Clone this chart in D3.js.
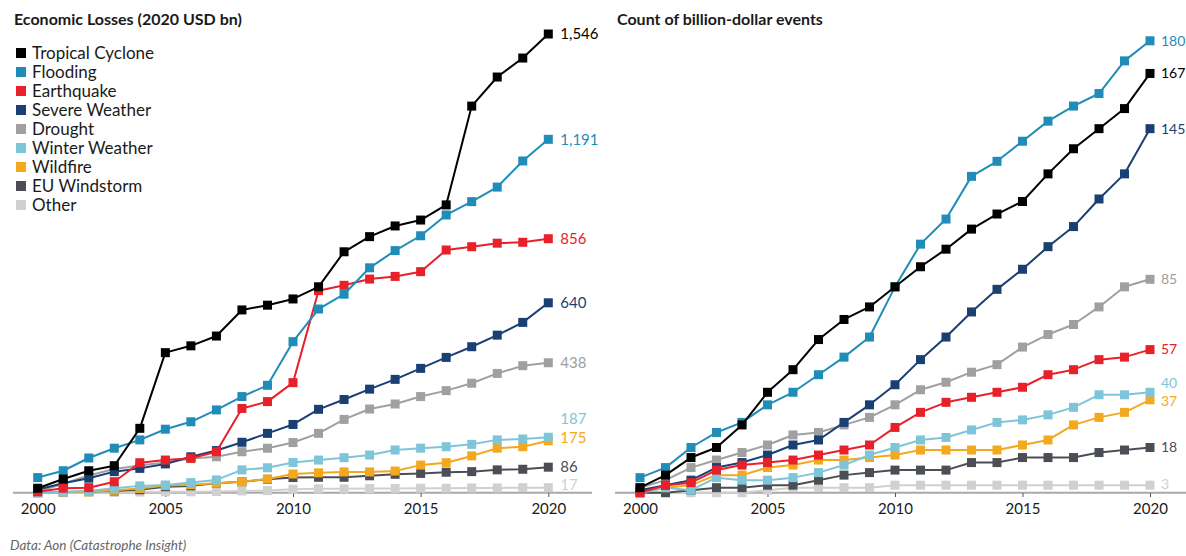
<!DOCTYPE html>
<html>
<head>
<meta charset="utf-8">
<script src="https://cdn.jsdelivr.net/npm/d3@7"></script>
<style>
  html, body { margin: 0; padding: 0; background: #fff; }
  svg { display: block; font-family: Lato, "Open Sans", sans-serif; }
</style>
</head>
<body>
<svg id="chart" width="1186" height="556"></svg>
<script>
const years = d3.range(2000, 2021);
const seriesNames = ["Tropical Cyclone","Flooding","Earthquake","Severe Weather","Drought","Winter Weather","Wildfire","EU Windstorm","Other"];
const seriesColors = ["#000000","#1f8db8","#e8202a","#1a3f73","#a0a0a0","#7fc5d9","#f4a81d","#4b4f55","#d0d0d0"];

// Economic losses, cumulative (2020 USD bn)
const lossTropicalCyclone = [15,46,74,91,217,472,495,528,616,632,653,694,812,863,899,919,970,1303,1401,1465,1546];
const lossFlooding        = [51,74,117,150,178,214,239,279,324,362,509,619,669,758,816,866,936,981,1030,1118,1191];
const lossEarthquake      = [3,15,17,37,101,110,116,138,284,307,371,681,699,720,729,745,818,829,841,844,856];
const lossSevereWeather   = [11,32,49,71,82,97,121,142,170,200,230,281,314,349,382,419,456,492,531,574,640];
const lossDrought         = [4,30,58,80,92,102,115,121,138,150,169,200,247,282,299,324,344,369,402,428,438];
const lossWinterWeather   = [0,2,6,15,23,26,34,43,77,84,102,110,118,127,144,150,155,163,178,181,187];
const lossWildfire        = [0,1,3,8,14,24,27,32,37,46,63,67,70,70,73,93,101,124,150,155,175];
const lossEUWindstorm     = [0,2,4,6,10,20,23,32,37,45,51,52,52,57,62,65,69,71,77,79,86];
const lossOther           = [0,0,1,1,2,3,3,4,6,7,12,13,13,14,14,15,15,16,16,17,17];

// Count of billion-dollar events, cumulative
const cntTropicalCyclone = [2,7,14,18,27,40,49,61,69,74,82,90,97,105,111,116,127,137,145,153,167];
const cntFlooding        = [6,10,18,24,28,35,40,47,54,62,82,99,109,126,132,140,148,154,159,172,180];
const cntEarthquake      = [0,3,4,9,11,12,13,15,17,19,26,32,36,38,40,42,47,49,53,54,57];
const cntSevereWeather   = [1,3,5,10,12,15,19,21,28,35,43,53,62,72,81,89,98,106,117,127,145];
const cntDrought         = [2,5,10,13,16,19,23,24,27,30,35,41,44,48,51,58,63,67,74,82,85];
const cntWinterWeather   = [0,2,1,6,5,5,6,8,11,15,18,21,22,25,28,29,31,34,39,39,40];
const cntWildfire        = [0,2,3,7,7,10,11,13,13,14,15,17,17,17,17,19,21,27,30,32,37];
const cntEUWindstorm     = [0,0,1,2,2,3,3,5,7,8,9,9,9,12,12,14,14,14,16,17,18];
const cntOther           = [0,0,0,0,0,1,2,2,2,2,3,3,3,3,3,3,3,3,3,3,3];

const tickYears = [2000, 2005, 2010, 2015, 2020];
const lossLabels = ["1,546","1,191","856","640","438","187","175","86","17"];
const cntLabels  = ["180","167","145","85","57","40","37","18","3"];
const cntLabelOrder = [1,0,3,4,2,5,6,7,8]; // series index for each count label

const lossData = [lossTropicalCyclone,lossFlooding,lossEarthquake,lossSevereWeather,lossDrought,lossWinterWeather,lossWildfire,lossEUWindstorm,lossOther];
const cntData  = [cntTropicalCyclone,cntFlooding,cntEarthquake,cntSevereWeather,cntDrought,cntWinterWeather,cntWildfire,cntEUWindstorm,cntOther];

const svg = d3.select("#chart");

function panel(opts) {
  const g = svg.append("g");
  const x = d3.scaleLinear().domain([2000, 2020]).range(opts.xRange);
  const y = d3.scaleLinear().domain([0, opts.yMax]).range([492.7, opts.yTop]);

  g.append("line")
    .attr("x1", opts.axisX[0]).attr("x2", opts.axisX[1])
    .attr("y1", 492.7).attr("y2", 492.7)
    .attr("stroke", "#a8a8a8").attr("stroke-width", 2);

  const ax = d3.axisBottom(x).tickValues(tickYears).tickFormat(d3.format("d")).tickSize(4).tickPadding(6);
  const axg = g.append("g").attr("transform", "translate(0,493)").call(ax);
  axg.select(".domain").remove();
  axg.selectAll(".tick line").attr("stroke", "#555");
  axg.selectAll(".tick text").attr("font-size", 15).attr("fill", "#1a1a1a").attr("font-family", "Lato, sans-serif");

  const line = d3.line().x((d, i) => x(years[i])).y(d => y(d));

  for (let s = opts.data.length - 1; s >= 0; s--) {
    const vals = opts.data[s];
    g.append("path").datum(vals)
      .attr("d", line).attr("fill", "none")
      .attr("stroke", seriesColors[s]).attr("stroke-width", 2)
      .attr("stroke-linejoin", "round");
    g.selectAll(null).data(vals).enter().append("rect")
      .attr("x", (d, i) => x(years[i]) - 4.5)
      .attr("y", d => y(d) - 4.5)
      .attr("width", 9).attr("height", 9)
      .attr("fill", seriesColors[s]);
  }

  opts.labels.forEach((lab, k) => {
    const s = opts.labelSeries[k];
    const v = opts.data[s][20];
    g.append("text")
      .attr("x", x(2020) + opts.labelDx)
      .attr("y", y(v) + (opts.labelDy[k] || 0))
      .attr("dy", "0.35em")
      .attr("font-size", opts.labelSize)
      .attr("fill", seriesColors[s])
      .text(lab);
  });

  g.append("text")
    .attr("x", opts.titleX).attr("y", 25)
    .attr("font-size", 16).attr("font-weight", "bold").attr("fill", "#1a1a1a")
    .text(opts.title);
}

panel({
  xRange: [37.7, 548.3], axisX: [13, 592], yMax: 1546, yTop: 34,
  data: lossData, labels: lossLabels, labelSeries: [0,1,2,3,4,5,6,7,8],
  labelDy: [0,0,0,0,0,-18,-3,0,-3], labelDx: 12, labelSize: 15,
  title: "Economic Losses (2020 USD bn)", titleX: 14
});

panel({
  xRange: [640, 1150], axisX: [615, 1186], yMax: 180, yTop: 40.8,
  data: cntData, labels: cntLabels, labelSeries: cntLabelOrder,
  labelDy: [0,0,0,0,0,-9,1,0,-1], labelDx: 11, labelSize: 14,
  title: "Count of billion-dollar events", titleX: 617
});

const legend = svg.append("g");
seriesNames.forEach((n, i) => {
  const yy = 53 + i * 19;
  legend.append("rect").attr("x", 16).attr("y", yy - 5).attr("width", 10).attr("height", 10).attr("fill", seriesColors[i]);
  legend.append("text").attr("x", 32).attr("y", yy).attr("dy", "0.35em")
    .attr("font-size", 17).attr("fill", "#1a1a1a").text(n);
});

svg.append("text").attr("x", 10).attr("y", 550)
  .attr("font-size", 13.5).attr("font-style", "italic").attr("fill", "#666")
  .text("Data: Aon (Catastrophe Insight)");
</script>
</body>
</html>
